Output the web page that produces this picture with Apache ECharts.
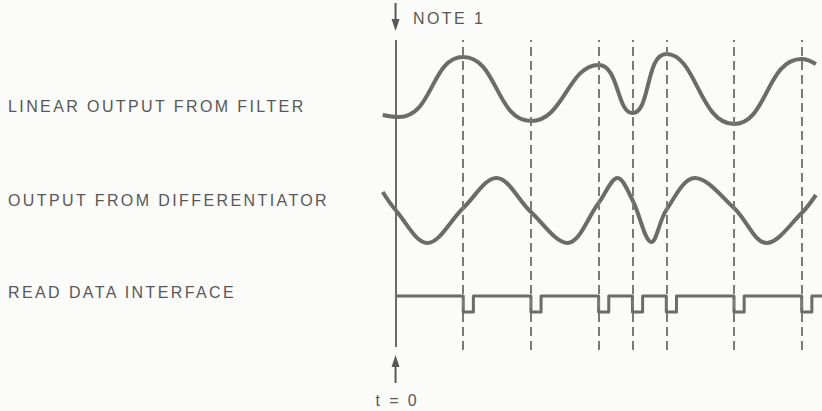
<!DOCTYPE html>
<html>
<head>
<meta charset="utf-8">
<script src="https://cdn.jsdelivr.net/npm/echarts@6/dist/echarts.min.js"></script>
<style>
  html, body { margin: 0; background: #fbfbf9; }
  #chart { width: 822px; height: 411px; }
  #chart text { letter-spacing: 2.4px; }
</style>
</head>
<body>
<div id="chart"></div>
<script>
// trace names (left column)
var traceLabels = ['LINEAR OUTPUT FROM FILTER', 'OUTPUT FROM DIFFERENTIATOR', 'READ DATA INTERFACE'];
var noteText = 'NOTE 1';
var originText = 't = 0';

// linear output from filter : time / level
var filterT = [-0.19, 0.05, 1, 2, 3, 3.5, 4, 5, 6, 6.21];
var filterV = [2.0, 1.8, 7.8, 1.4, 7.0, 2.2, 8.1, 1.1, 7.6, 7.1];

// output from differentiator
var diffT = [-0.19, 0, 0.47, 1, 1.49, 2, 2.54, 3, 3.28, 3.5, 3.78, 4, 4.42, 5, 5.48, 6, 6.21];
var diffV = [5.8, 4.0, 0.7, 4.2, 7.2, 3.8, 0.7, 4.7, 7.2, 5.0, 0.8, 4.0, 7.2, 4.2, 0.7, 3.7, 5.5];

// read data pulses (start times) and the dashed strobe lines
var readTimes = [1, 2, 3, 3.5, 4, 5, 6];
var pulseWidth = 0.15;
var readStart = 0, readEnd = 6.3;

var xMin = -0.2, xMax = 6.3;
var ink = '#6b6b6b';
var textInk = '#585858';
var font = '16px "Liberation Sans", Arial, sans-serif';

function pairs(ts, vs) {
  return ts.map(function (t, i) { return [t, vs[i]]; });
}

// build the step trace for read data
var readData = [[readStart, 1]];
readTimes.forEach(function (t) {
  readData.push([t, 1], [t, 0], [t + pulseWidth, 0], [t + pulseWidth, 1]);
});
readData.push([readEnd, 1]);

var strobeLines = readTimes.map(function (t) {
  return [{ coord: [t, 0] }, { coord: [t, 1] }];
});
strobeLines.push([
  { coord: [0, 0.01], lineStyle: { type: 'solid', width: 2, color: ink } },
  { coord: [0, 1] }
]);

var chart = echarts.init(document.getElementById('chart'), null, { renderer: 'svg' });

var grids = [
  { left: 382, right: 0, top: 45, height: 90 },
  { left: 382, right: 0, top: 170, height: 80 },
  { left: 382, right: 0, top: 296, height: 16 },
  { left: 382, right: 0, top: 40, height: 310 }
];
var yRanges = [[0, 9], [0, 8], [0, 1], [0, 1]];

var option = {
  animation: false,
  grid: grids,
  xAxis: grids.map(function (g, i) {
    return { type: 'value', gridIndex: i, min: xMin, max: xMax, show: false };
  }),
  yAxis: yRanges.map(function (r, i) {
    return { type: 'value', gridIndex: i, min: r[0], max: r[1], show: false };
  }),
  series: [
    {
      type: 'line', xAxisIndex: 3, yAxisIndex: 3, data: [], z: 1,
      markLine: {
        silent: true, symbol: 'none', label: { show: false },
        lineStyle: { type: [9, 5], width: 2, color: '#7a7a7a' },
        data: strobeLines
      }
    },
    {
      name: traceLabels[0], type: 'line', xAxisIndex: 0, yAxisIndex: 0, z: 3,
      data: pairs(filterT, filterV), smooth: 0.5, showSymbol: false, clip: false,
      lineStyle: { width: 4, color: ink }
    },
    {
      name: traceLabels[1], type: 'line', xAxisIndex: 1, yAxisIndex: 1, z: 3,
      data: pairs(diffT, diffV), smooth: 0.35, showSymbol: false, clip: false,
      lineStyle: { width: 4, color: ink }
    },
    {
      name: traceLabels[2], type: 'line', xAxisIndex: 2, yAxisIndex: 2, z: 3,
      data: readData, showSymbol: false, clip: false,
      lineStyle: { width: 3, color: ink, join: 'round' }
    }
  ]
};
chart.setOption(option);

var x0 = chart.convertToPixel({ xAxisIndex: 3 }, 0);
var labelY = [106.5, 200.5, 292];

var graphics = traceLabels.map(function (txt, i) {
  return {
    type: 'text', x: 8, y: labelY[i],
    style: { text: txt, font: font, fill: textInk, textAlign: 'left', textVerticalAlign: 'middle' }
  };
});
graphics.push(
  { type: 'text', x: 413, y: 18.5,
    style: { text: noteText, font: font, fill: textInk, textAlign: 'left', textVerticalAlign: 'middle' } },
  { type: 'text', x: x0 - 20, y: 400,
    style: { text: originText, font: font, fill: textInk, textAlign: 'left', textVerticalAlign: 'middle' } },
  // arrow down at top
  { type: 'line', shape: { x1: x0, y1: 3, x2: x0, y2: 24 }, style: { stroke: textInk, lineWidth: 2 } },
  { type: 'polygon', shape: { points: [[x0 - 4, 19], [x0 + 4, 19], [x0, 31]] }, style: { fill: textInk } },
  // arrow up at bottom
  { type: 'line', shape: { x1: x0, y1: 362, x2: x0, y2: 383 }, style: { stroke: textInk, lineWidth: 2 } },
  { type: 'polygon', shape: { points: [[x0 - 4, 367], [x0 + 4, 367], [x0, 355]] }, style: { fill: textInk } }
);
chart.setOption({ graphic: graphics });
</script>
</body>
</html>
